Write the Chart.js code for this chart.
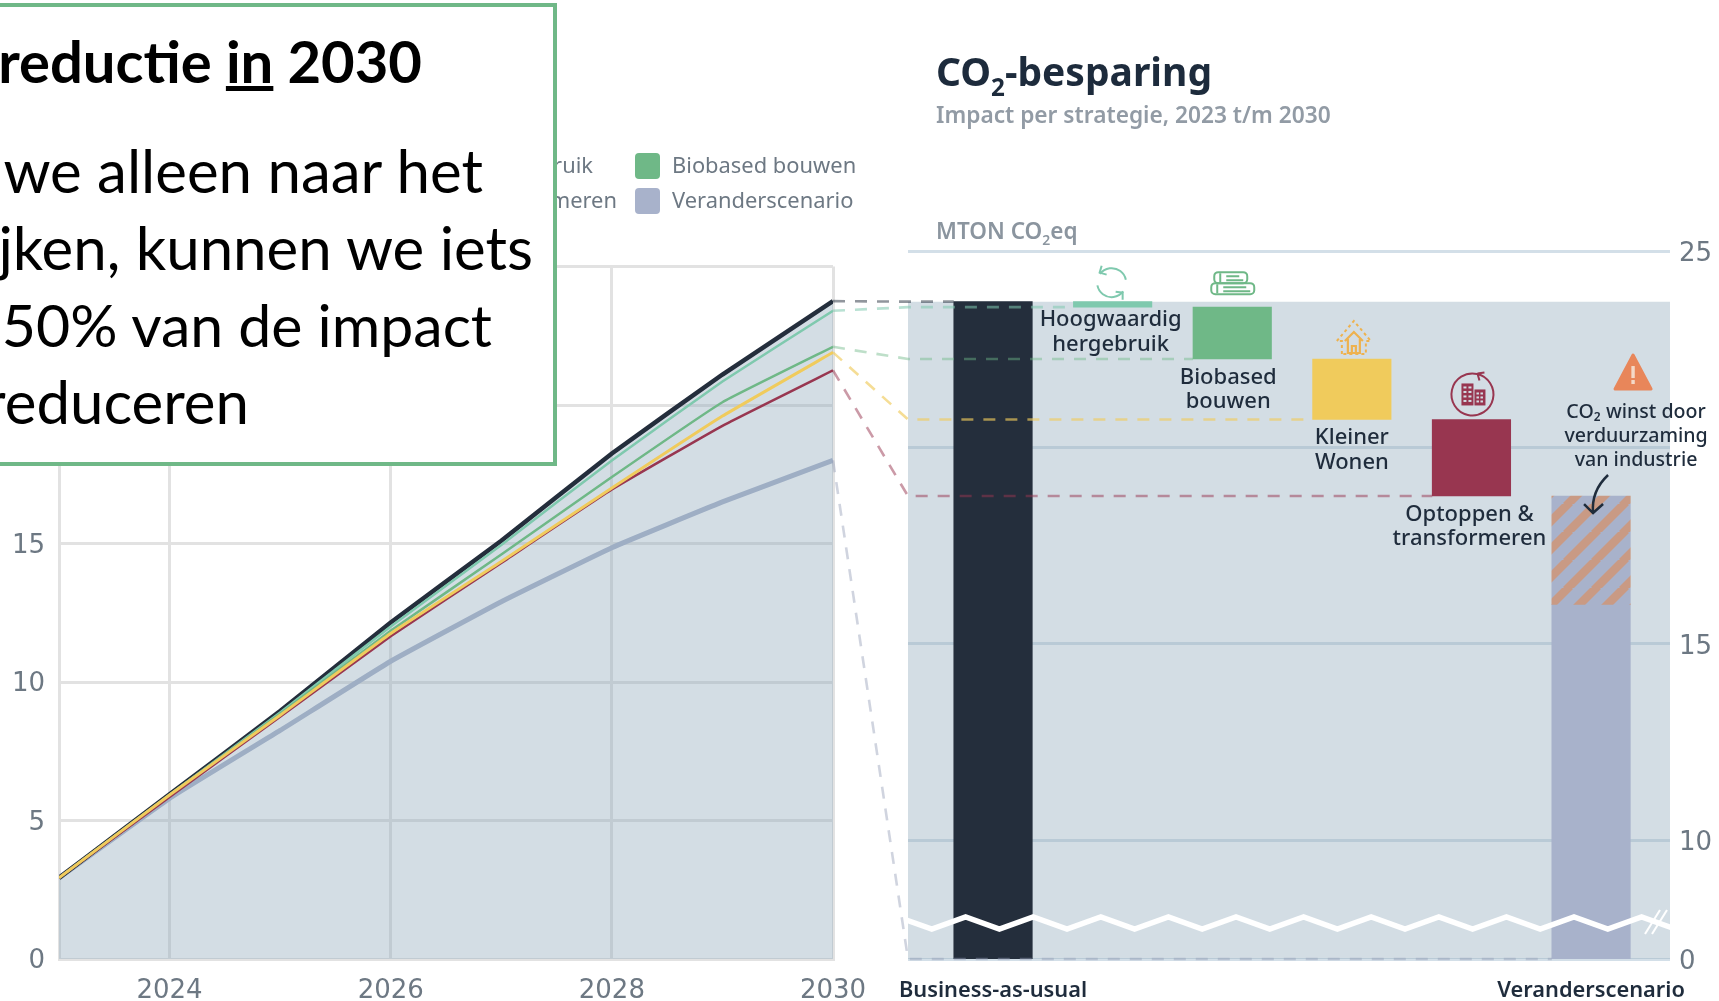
<!DOCTYPE html>
<html>
<head>
<meta charset="utf-8">
<script src="https://cdn.jsdelivr.net/npm/chart.js@4"></script>
<style>
  html, body { margin: 0; padding: 0; background: #fff; overflow: hidden; }
  #page { position: relative; width: 1719px; height: 1001px; overflow: hidden; font-family: "Noto Sans", sans-serif; }
  canvas { position: absolute; left: 0; top: 0; }
  .head { position: absolute; white-space: nowrap; font-weight: 600; }
  .head sub { font-size: 62%; line-height: 0; vertical-align: -0.4em; }
  #title { left: 936px; top: 44px; font-size: 39px; font-weight: 700; color: #1d2b3c; }
  #subtitle { left: 936px; top: 99px; font-size: 22.7px; color: #929ba5; }
  #unit { left: 936px; top: 215px; font-size: 22.5px; color: #8b959f; }
  .legend-row { position: absolute; white-space: nowrap; font-size: 21.9px; color: #6d7883; }
  .legend-swatch { position: absolute; width: 25px; height: 26px; border-radius: 4px; }
  #box { position: absolute; left: -6px; top: 3px; width: 555px; height: 455px; background: #fff; border: 4px solid #6fb887; overflow: hidden; font-family: Lato, sans-serif; color: #000; }
  .box-line { position: absolute; white-space: nowrap; line-height: 1; font-size: 60px; }
</style>
</head>
<body>
<div id="page">
  <canvas id="trend" width="1719" height="1001"></canvas>
  <canvas id="steps" width="1719" height="1001"></canvas>
  <div id="legend"></div>
  <div class="head" id="title">CO<sub>2</sub>-besparing</div>
  <div class="head" id="subtitle">Impact per strategie, 2023 t/m 2030</div>
  <div class="head" id="unit">MTON CO<sub>2</sub>eq</div>
  <div id="box">
    <div class="box-line" style="right:131px;top:25px;font-weight:700;font-size:58px">reductie <u>in</u> 2030</div>
    <div class="box-line" style="right:70px;top:133px">we alleen naar het</div>
    <div class="box-line" style="right:20px;top:210px">jken, kunnen we iets</div>
    <div class="box-line" style="right:61px;top:288px;font-size:59px">50% van de impact</div>
    <div class="box-line" style="right:304px;top:364px">reduceren</div>
  </div>
</div>
<script>
// left chart: cumulative impact per year
const years = [2023, 2024, 2025, 2026, 2027, 2028, 2029, 2030];
const yearTicks = [2024, 2026, 2028, 2030];
const businessAsUsual = [2.93, 5.95, 8.95, 12.15, 15.1, 18.25, 21.1, 23.75];
const hergebruik = [2.93, 5.93, 8.9, 12.0, 14.95, 18.0, 20.85, 23.4];
const biobased = [2.93, 5.92, 8.85, 11.85, 14.6, 17.4, 20.1, 22.1];
const kleinerWonen = [2.93, 5.92, 8.8, 11.75, 14.35, 17.0, 19.6, 21.9];
const optoppen = [2.93, 5.85, 8.75, 11.65, 14.3, 16.95, 19.25, 21.25];
const veranderscenario = [2.93, 5.8, 8.25, 10.75, 12.9, 14.85, 16.5, 18.0];

// right chart: steps down from business-as-usual, axis is broken below 10
const axisFloor = 6.97;
const stepNames = ["Business-as-usual", "Hoogwaardig hergebruik", "Biobased bouwen", "Kleiner Wonen", "Optoppen & transformeren", "Veranderscenario"];
const stepIndex = [0, 1, 2, 3, 4, 5];
const stepFrom = [axisFloor, 23.57, 22.25, 20.71, 18.76, axisFloor];
const stepTo = [23.71, 23.71, 23.57, 22.25, 20.71, 16.0];
const industryGain = [16.0, 18.76];
const stepLevels = [23.71, 23.57, 22.25, 20.71, 18.76, axisFloor];
const stepTicks = [axisFloor, 10, 15, 20, 25];
const stepTickLabels = ["0", "10", "15", "", "25"];
const areaX = [-0.711, 5.66];

const colors = ["#242e3c", "#7fc9ae", "#6fb887", "#f0cb5c", "#983650", "#a8b2cb"];
const connectorColors = ["rgba(36,46,60,.5)", "rgba(127,201,174,.55)", "rgba(111,184,135,.45)", "rgba(240,203,92,.65)", "rgba(152,54,80,.5)", "rgba(150,160,185,.45)"];
const trendSeries = [businessAsUsual, hergebruik, biobased, kleinerWonen, optoppen, veranderscenario];
const trendNames = ["Business-as-usual", "Hoogwaardig hergebruik", "Biobased bouwen", "Kleiner Wonen", "Optoppen & transformeren", "Veranderscenario"];

// lineHeight is only there to push the tick text down a bit, see the ["", v] labels
const tickFont = { family: "'DejaVu Sans'", size: 26, lineHeight: "4.6px" };
const rightTickFont = { family: "'DejaVu Sans'", size: 26, lineHeight: "6.4px" };
const xTickFont = { family: "'DejaVu Sans'", size: 26 };
const tickColor = "#6d7883";
const noteColor = "#1f2c3c";

// legend, partly behind the text box like in the original
const legendRows = [
  [["Hoogwaardig hergebruik", 1], ["Biobased bouwen", 2]],
  [["Optoppen & transformeren", 4], ["Veranderscenario", 5]]
];
legendRows.forEach((row, r) => {
  const top = 150 + r * 35;
  const first = document.createElement("div");
  first.className = "legend-row";
  first.style.right = (1719 - (r ? 617 : 593)) + "px";
  first.style.top = top + "px";
  first.textContent = row[0][0];
  document.getElementById("legend").appendChild(first);
  const swatch = document.createElement("div");
  swatch.className = "legend-swatch";
  swatch.style.left = "635px";
  swatch.style.top = (top + 3) + "px";
  swatch.style.background = colors[row[1][1]];
  document.getElementById("legend").appendChild(swatch);
  const second = document.createElement("div");
  second.className = "legend-row";
  second.style.left = "672px";
  second.style.top = top + "px";
  second.textContent = row[1][0];
  document.getElementById("legend").appendChild(second);
});

const trendChart = new Chart(document.getElementById("trend"), {
  type: "line",
  data: {
    datasets: trendSeries.map((vals, i) => ({
      label: trendNames[i],
      data: vals.map((v, k) => ({ x: years[k], y: v })),
      borderColor: colors[i],
      borderWidth: [4.5, 2.5, 2.5, 3, 2.5, 5][i],
      pointRadius: 0,
      tension: 0.1,
      fill: i === 0 ? "origin" : false,
      backgroundColor: "rgba(142,168,186,.39)",
      order: [5, 4, 3, 1, 2, 6][i]
    }))
  },
  options: {
    responsive: false,
    animation: false,
    layout: { padding: { top: 266.5, right: 886, left: 0, bottom: 0 } },
    plugins: { legend: { display: false }, tooltip: { enabled: false } },
    scales: {
      x: {
        type: "linear",
        min: 2023,
        max: 2030,
        afterBuildTicks: s => { s.ticks = yearTicks.map(v => ({ value: v })); },
        afterFit: s => { s.height = 42; },
        grid: { color: "#e2e2e2", lineWidth: 3, drawTicks: false },
        border: { color: "#e2e2e2", width: 3 },
        ticks: { color: tickColor, font: xTickFont, padding: 17, maxRotation: 0, callback: v => String(v) }
      },
      y: {
        min: 0,
        max: 25,
        afterFit: s => { s.width = 59; },
        grid: { color: "#e2e2e2", lineWidth: 3, drawTicks: false },
        border: { color: "#e2e2e2", width: 3 },
        ticks: { color: tickColor, font: tickFont, padding: 14, stepSize: 5, callback: v => ["", String(v)] }
      }
    }
  }
});

function stripePattern() {
  const c = document.createElement("canvas");
  c.width = c.height = 28;
  const g = c.getContext("2d");
  g.fillStyle = colors[5];
  g.fillRect(0, 0, 28, 28);
  g.strokeStyle = "#c99a84";
  g.lineWidth = 8.5;
  [0, 28, 56].forEach(k => {
    g.beginPath();
    g.moveTo(k + 2, -2);
    g.lineTo(k - 30, 30);
    g.stroke();
  });
  return g.createPattern(c, "repeat");
}

function iconRecycle(g, x, y) {
  g.strokeStyle = colors[1];
  g.fillStyle = colors[1];
  g.lineWidth = 2;
  g.beginPath(); g.arc(x, y, 14.5, -2.5, -0.2); g.stroke();
  g.beginPath(); g.arc(x, y, 14.5, 0.65, 2.95); g.stroke();
  g.beginPath(); g.moveTo(x - 10, y - 17); g.lineTo(x - 12, y - 10); g.lineTo(x - 5, y - 8); g.stroke();
  g.beginPath(); g.moveTo(x + 11, y + 17); g.lineTo(x + 11, y + 10); g.lineTo(x + 4, y + 9); g.stroke();
}

function iconLogs(g, x, y) {
  g.strokeStyle = colors[2];
  g.lineWidth = 2;
  [[-18, -11, 33], [-21, 0, 43]].forEach(r => {
    g.beginPath();
    g.roundRect(x + r[0], y + r[1], r[2], 11, 4);
    g.stroke();
    g.beginPath();
    g.moveTo(x + r[0] + 6, y + r[1] + 1);
    g.lineTo(x + r[0] + 6, y + r[1] + 10);
    g.moveTo(x + r[0] + 12, y + r[1] + 4);
    g.lineTo(x + r[0] + r[2] - 8, y + r[1] + 4);
    g.moveTo(x + r[0] + 12, y + r[1] + 8);
    g.lineTo(x + r[0] + r[2] - 4, y + r[1] + 8);
    g.stroke();
  });
}

function iconHouse(g, x, y) {
  g.strokeStyle = "#eeb24f";
  g.lineWidth = 2;
  g.setLineDash([3, 3]);
  g.beginPath();
  g.moveTo(x - 12, y + 16); g.lineTo(x - 12, y + 3); g.lineTo(x - 17, y + 3);
  g.lineTo(x, y - 17); g.lineTo(x + 17, y + 3); g.lineTo(x + 12, y + 3); g.lineTo(x + 12, y + 16);
  g.closePath();
  g.stroke();
  g.setLineDash([]);
  g.lineWidth = 2.2;
  g.beginPath();
  g.moveTo(x - 9, y + 3); g.lineTo(x, y - 6); g.lineTo(x + 9, y + 3);
  g.moveTo(x - 6, y + 1); g.lineTo(x - 6, y + 15); g.lineTo(x + 6, y + 15); g.lineTo(x + 6, y + 1);
  g.moveTo(x - 2, y + 15); g.lineTo(x - 2, y + 8); g.lineTo(x + 2, y + 8); g.lineTo(x + 2, y + 15);
  g.stroke();
}

function iconBuilding(g, x, y) {
  g.strokeStyle = colors[4];
  g.lineWidth = 2;
  g.beginPath(); g.arc(x, y, 21, -1.35, 5.4 - 0.35); g.stroke();
  g.beginPath(); g.moveTo(x + 5, y - 21); g.lineTo(x + 7, y - 14); g.moveTo(x + 5, y - 21); g.lineTo(x + 12, y - 22); g.stroke();
  g.fillStyle = colors[4];
  g.fillRect(x - 11, y - 11, 12, 22);
  g.fillRect(x + 2, y - 5, 11, 16);
  g.fillStyle = "#d3dde4";
  for (let r = 0; r < 4; r++) {
    for (let c = 0; c < 2; c++) {
      g.fillRect(x - 9 + c * 5, y - 8 + r * 4.5, 3, 2);
      if (r > 0) g.fillRect(x + 4 + c * 4, y - 6 + r * 4, 2.5, 2);
    }
  }
}

function iconWarning(g, x, y) {
  g.fillStyle = "#e8865a";
  g.strokeStyle = "#e8865a";
  g.lineJoin = "round";
  g.lineWidth = 3;
  g.beginPath(); g.moveTo(x, y - 17); g.lineTo(x + 18, y + 17); g.lineTo(x - 18, y + 17); g.closePath();
  g.fill(); g.stroke();
  g.lineJoin = "miter";
  g.fillStyle = "#f4d9c8";
  g.fillRect(x - 1.7, y - 6, 3.4, 12);
  g.fillRect(x - 1.7, y + 8, 3.4, 4);
}

const stepDecor = {
  id: "stepDecor",
  afterDatasetsDraw(chart) {
    const g = chart.ctx;
    const sx = chart.scales.x;
    const sy = chart.scales.y;
    const area = chart.chartArea;
    const halfBar = 39.25;
    g.save();

    // dashed connectors from the end of the left lines to the bar levels
    const x2030 = trendChart.scales.x.getPixelForValue(2030);
    g.lineWidth = 2.6;
    g.setLineDash([12, 10]);
    stepLevels.forEach((lvl, i) => {
      const y0 = trendChart.scales.y.getPixelForValue(trendSeries[i][7]);
      const y1 = sy.getPixelForValue(lvl);
      g.strokeStyle = connectorColors[i];
      g.beginPath();
      g.moveTo(x2030, y0);
      g.lineTo(area.left, y1);
      g.lineTo(sx.getPixelForValue(stepIndex[i]) - halfBar, y1);
      g.stroke();
    });
    g.setLineDash([]);

    // white zigzag for the axis break
    const zigY = sy.getPixelForValue(axisFloor) - 36;
    g.save();
    g.beginPath();
    g.rect(area.left, area.top, area.width, area.height);
    g.clip();
    g.strokeStyle = "#fff";
    g.lineWidth = 5.5;
    g.beginPath();
    let up = true;
    for (let x = 898; x < area.right + 40; x += 33.8) {
      const y = zigY + (up ? -6 : 6);
      if (x === 898) g.moveTo(x, y); else g.lineTo(x, y);
      up = !up;
    }
    g.stroke();
    g.lineWidth = 2;
    [0, 7].forEach(d => {
      g.beginPath();
      g.moveTo(1660 + d, zigY - 13);
      g.lineTo(1645 + d, zigY + 11);
      g.stroke();
    });
    g.restore();

    // labels under the steps
    g.fillStyle = noteColor;
    g.textAlign = "center";
    g.textBaseline = "middle";
    g.font = "500 22px 'Noto Sans'";
    const notes = [null, ["Hoogwaardig", "hergebruik"], ["Biobased", "bouwen"], ["Kleiner", "Wonen"], ["Optoppen &", "transformeren"], null];
    const noteShift = [0, -2, -4, 0, -2, 0];
    notes.forEach((lines, i) => {
      if (!lines) return;
      const cx = sx.getPixelForValue(stepIndex[i]) + noteShift[i];
      const top = sy.getPixelForValue(stepFrom[i]) + (i === 1 ? 13 : 18.5);
      lines.forEach((t, k) => g.fillText(t, cx, top + k * 24.5));
    });

    // the industry note
    const hatchX = sx.getPixelForValue(5);
    const hatchTop = sy.getPixelForValue(industryGain[1]);
    g.font = "500 19.6px 'Noto Sans'";
    ["CO₂ winst door", "verduurzaming", "van industrie"].forEach((t, k) => {
      g.fillText(t, hatchX + 45, hatchTop - 84 + k * 24.2);
    });
    g.strokeStyle = noteColor;
    g.lineWidth = 2.5;
    g.beginPath();
    g.moveTo(hatchX + 17, hatchTop - 21);
    g.quadraticCurveTo(hatchX, hatchTop - 5, hatchX + 2, hatchTop + 17);
    g.moveTo(hatchX - 7, hatchTop + 8);
    g.lineTo(hatchX + 2, hatchTop + 17);
    g.lineTo(hatchX + 12, hatchTop + 8);
    g.stroke();

    iconRecycle(g, sx.getPixelForValue(1) - 1, sy.getPixelForValue(stepTo[1]) - 19);
    iconLogs(g, sx.getPixelForValue(2), sy.getPixelForValue(stepTo[2]) - 24);
    iconHouse(g, sx.getPixelForValue(3) + 2, sy.getPixelForValue(stepTo[3]) - 21);
    iconBuilding(g, sx.getPixelForValue(4) + 1, sy.getPixelForValue(stepTo[4]) - 25);
    iconWarning(g, hatchX + 42, hatchTop - 124);
    g.restore();
  }
};

new Chart(document.getElementById("steps"), {
  type: "bar",
  data: {
    datasets: [
      {
        type: "line",
        label: "Business-as-usual niveau",
        data: areaX.map(x => ({ x: x, y: stepLevels[0] })),
        borderWidth: 0,
        pointRadius: 0,
        fill: "start",
        backgroundColor: "rgba(148,173,190,.41)",
        order: 3
      },
      {
        label: "Strategie",
        data: stepIndex.map(i => ({ x: i, y: [stepFrom[i], stepTo[i]] })),
        backgroundColor: colors,
        barThickness: 78.5,
        grouped: false,
        order: 2
      },
      {
        label: "CO2 winst door verduurzaming van industrie",
        data: [{ x: 5, y: industryGain }],
        backgroundColor: stripePattern(),
        barThickness: 78.5,
        grouped: false,
        order: 1
      }
    ]
  },
  options: {
    responsive: false,
    animation: false,
    layout: { padding: { top: 251, left: 908, right: 0, bottom: 0 } },
    plugins: { legend: { display: false }, tooltip: { enabled: false } },
    scales: {
      x: {
        type: "linear",
        offset: false,
        min: areaX[0],
        max: areaX[1],
        afterBuildTicks: s => { s.ticks = [{ value: 0 }, { value: 5 }]; },
        afterFit: s => { s.height = 42; },
        grid: { display: false },
        border: { display: false },
        ticks: {
          color: noteColor,
          font: { family: "'Noto Sans'", size: 21.8, weight: "600" },
          padding: 11,
          maxRotation: 0,
          autoSkip: false,
          callback: v => stepNames[v]
        }
      },
      y: {
        position: "right",
        min: axisFloor,
        max: 25,
        afterBuildTicks: s => { s.ticks = stepTicks.map(v => ({ value: v })); },
        afterFit: s => { s.width = 49; },
        grid: { color: "#d3dfe8", lineWidth: 3, drawTicks: false },
        border: { display: false },
        ticks: {
          color: tickColor,
          font: rightTickFont,
          padding: 9,
          callback: v => ["", stepTickLabels[stepTicks.indexOf(v)]]
        }
      }
    }
  },
  plugins: [stepDecor]
});
</script>
</body>
</html>
